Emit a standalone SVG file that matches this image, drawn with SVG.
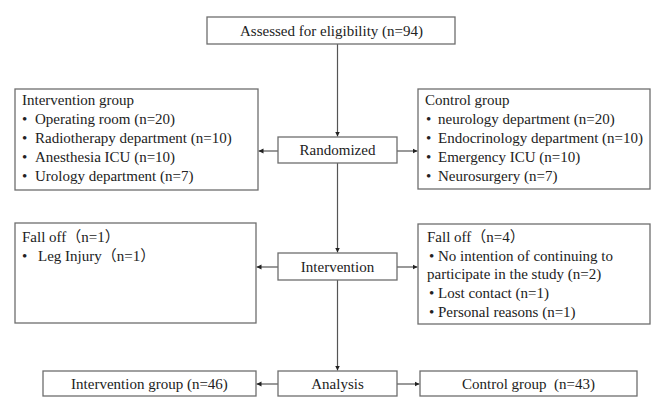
<svg xmlns="http://www.w3.org/2000/svg" width="651" height="397" viewBox="0 0 651 397">
<style>
.box{fill:#fff;stroke:#6e6e6e;stroke-width:1.3}
.t{font-family:'Liberation Serif','Times New Roman',serif;font-size:15px;fill:#222}
.cjk{font-family:'Noto Sans CJK SC',sans-serif}
.c{text-anchor:middle}
.ln{stroke:#555;stroke-width:1.2;fill:none}
</style>
<defs>
<marker id="ah" markerWidth="6" markerHeight="6" refX="5" refY="3" orient="auto" markerUnits="userSpaceOnUse">
<path d="M0,0.5 L5,3 L0,5.5 Z" fill="#222"/>
</marker>
</defs>
<rect width="651" height="397" fill="#fff"/>
<g id="connectors">
<line class="ln" x1="337.5" y1="44" x2="337.5" y2="136.5" marker-end="url(#ah)"/>
<line class="ln" x1="337.5" y1="163" x2="337.5" y2="252.5" marker-end="url(#ah)"/>
<line class="ln" x1="337.5" y1="280" x2="337.5" y2="370.5" marker-end="url(#ah)"/>
<line class="ln" x1="278" y1="151" x2="258.5" y2="151" marker-end="url(#ah)"/>
<line class="ln" x1="397" y1="151" x2="417.5" y2="151" marker-end="url(#ah)"/>
<line class="ln" x1="278" y1="267" x2="256.5" y2="267" marker-end="url(#ah)"/>
<line class="ln" x1="397" y1="267" x2="417.5" y2="267" marker-end="url(#ah)"/>
<line class="ln" x1="278" y1="384" x2="256.5" y2="384" marker-end="url(#ah)"/>
<line class="ln" x1="397" y1="384" x2="419.5" y2="384" marker-end="url(#ah)"/>
</g>
<g id="assessed">
<rect class="box" x="207" y="17" width="248" height="27"/>
<text class="t c" x="331.5" y="35.5">Assessed for eligibility (n=94)</text>
</g>
<g id="intervention-group">
<rect class="box" x="15" y="89" width="243" height="101"/>
<text class="t" x="22" y="105">Intervention group</text>
<text class="t" x="22" y="124">•<tspan x="35">Operating room (n=20)</tspan></text>
<text class="t" x="22" y="143">•<tspan x="35">Radiotherapy department (n=10)</tspan></text>
<text class="t" x="22" y="162">•<tspan x="35">Anesthesia ICU (n=10)</tspan></text>
<text class="t" x="22" y="181">•<tspan x="35">Urology department (n=7)</tspan></text>
</g>
<g id="randomized">
<rect class="box" x="278" y="137" width="119" height="26"/>
<text class="t c" x="337.5" y="155">Randomized</text>
</g>
<g id="control-group">
<rect class="box" x="418" y="89" width="232" height="100"/>
<text class="t" x="425" y="105">Control group</text>
<text class="t" x="426" y="124">•<tspan x="438">neurology department (n=20)</tspan></text>
<text class="t" x="426" y="143">•<tspan x="438">Endocrinology department (n=10)</tspan></text>
<text class="t" x="426" y="162">•<tspan x="438">Emergency ICU (n=10)</tspan></text>
<text class="t" x="426" y="181">•<tspan x="438">Neurosurgery (n=7)</tspan></text>
</g>
<g id="falloff-left">
<rect class="box" x="15" y="223" width="241" height="100"/>
<text class="t" x="22" y="242">Fall off<tspan class="cjk">（</tspan>n=1<tspan class="cjk">）</tspan></text>
<text class="t" x="22" y="261">•<tspan x="38">Leg Injury</tspan><tspan class="cjk">（</tspan>n=1<tspan class="cjk">）</tspan></text>
</g>
<g id="intervention">
<rect class="box" x="278" y="253" width="119" height="27"/>
<text class="t c" x="337.5" y="271.5">Intervention</text>
</g>
<g id="falloff-right">
<rect class="box" x="418" y="224" width="232" height="100"/>
<text class="t" x="427" y="242">Fall off<tspan class="cjk">（</tspan>n=4<tspan class="cjk">）</tspan></text>
<text class="t" x="429" y="261">•<tspan x="438">No intention of continuing to</tspan></text>
<text class="t" x="427" y="279">participate in the study (n=2)</text>
<text class="t" x="429" y="298">•<tspan x="438">Lost contact (n=1)</tspan></text>
<text class="t" x="429" y="317">•<tspan x="438">Personal reasons (n=1)</tspan></text>
</g>
<g id="final-intervention">
<rect class="box" x="43" y="371" width="213" height="25"/>
<text class="t c" x="149.5" y="388.5">Intervention group (n=46)</text>
</g>
<g id="analysis">
<rect class="box" x="278" y="371" width="119" height="25"/>
<text class="t c" x="337.5" y="388.5">Analysis</text>
</g>
<g id="final-control">
<rect class="box" x="420" y="371" width="217" height="25"/>
<text class="t c" x="528.5" y="388.5" xml:space="preserve">Control group  (n=43)</text>
</g>
</svg>
